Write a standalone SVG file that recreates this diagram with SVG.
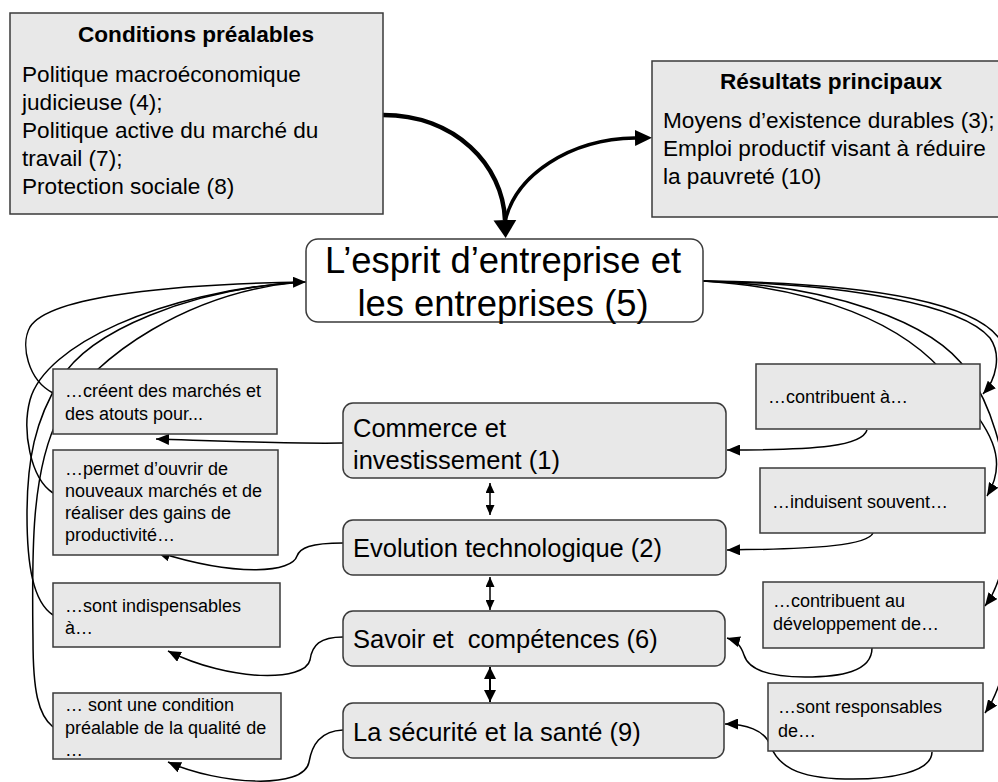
<svg xmlns="http://www.w3.org/2000/svg" width="998" height="782" viewBox="0 0 998 782">
<defs>
<style>
text{font-family:"Liberation Sans",Arial,sans-serif;fill:#000}
.box{fill:#e8e8e8;stroke:#3a3a3a;stroke-width:1.5}
.main{fill:#fff;stroke:#3a3a3a;stroke-width:1.5}
.t22{font-size:22.6px}
.b22{font-size:22.6px;font-weight:bold}
.t18{font-size:18px}
.t25{font-size:25.5px}
.t36{font-size:36.4px}
.c{fill:none;stroke:#000;stroke-width:1.5}
.thick{fill:none;stroke:#000;stroke-width:4.5}
.med{fill:none;stroke:#000;stroke-width:3.5}
</style>
<marker id="ah" markerUnits="userSpaceOnUse" viewBox="0 0 13 11" refX="13" refY="5.5" markerWidth="13" markerHeight="11" orient="auto"><path d="M0,0 L13,5.5 L0,11 z" fill="#000"/></marker>
<marker id="ahs" markerUnits="userSpaceOnUse" viewBox="0 0 10 9" refX="10" refY="4.5" markerWidth="10" markerHeight="9" orient="auto-start-reverse"><path d="M0,0 L10,4.5 L0,9 z" fill="#000"/></marker>
<marker id="ahl" markerUnits="userSpaceOnUse" viewBox="0 0 12 12" refX="12" refY="6" markerWidth="12" markerHeight="12" orient="auto-start-reverse"><path d="M0,0 L12,6 L0,12 z" fill="#000"/></marker>
<marker id="big" markerUnits="userSpaceOnUse" viewBox="0 -12 18 24" refX="0" refY="0" markerWidth="18" markerHeight="24" orient="auto"><path d="M0,-11.5 L18,0 L0,11.5 z" fill="#000"/></marker>
<marker id="mid" markerUnits="userSpaceOnUse" viewBox="0 -8 17 16" refX="0" refY="0" markerWidth="17" markerHeight="16" orient="auto"><path d="M0,-8 L17,0 L0,8 z" fill="#000"/></marker>
</defs>
<rect width="998" height="782" fill="#fff"/>
<g id="connectors">
<path class="thick" d="M383,115 C455,115 503,165 505,220" marker-end="url(#big)"/>
<path class="med" d="M505,222 C515,175 570,139 635,138" marker-end="url(#mid)"/>
<path class="c" d="M53,393 C28,380 20,345 30,327 C50,295 180,284 306,282" marker-end="url(#ah)"/>
<path class="c" d="M53,493 C30,478 22,430 30,400 C45,345 160,292 300,282"/>
<path class="c" d="M53,615 C33,602 27,565 27,515 C27,460 35,420 60,380 C90,330 190,290 300,282"/>
<path class="c" d="M53,727 C38,715 33,690 33,640 C32,560 30,470 60,415 C95,355 190,292 300,282"/>
<path class="c" d="M703,281 C850,284 962,305 990,338 C1002,355 996,380 983,394" marker-end="url(#ah)"/>
<path class="c" d="M703,281 C815,288 905,322 950,380 C985,425 1012,455 987,496" marker-end="url(#ah)"/>
<path class="c" d="M703,281 C830,285 935,322 968,372 C1015,440 1020,560 985,606" marker-end="url(#ah)"/>
<path class="c" d="M703,281 C880,283 985,305 1003,345 C1030,420 1030,650 985,713" marker-end="url(#ah)"/>
<path class="c" d="M343,443 C290,444 220,441 156,439" marker-end="url(#ah)"/>
<path class="c" d="M343,543 C310,543 300,548 297,556 C292,572 240,578 157,552" marker-end="url(#ah)"/>
<path class="c" d="M343,637 C320,637 312,645 310,660 C305,682 230,682 168,651" marker-end="url(#ah)"/>
<path class="c" d="M343,730 C320,731 312,745 309,762 C304,790 220,785 168,762" marker-end="url(#ah)"/>
<path class="c" d="M867,430 C862,446 820,450 727,450" marker-end="url(#ah)"/>
<path class="c" d="M873,533 C868,545 820,549 727,550" marker-end="url(#ah)"/>
<path class="c" d="M872,648 C872,672 840,677 805,677 C765,677 748,668 744,655 C741,646 737,641 727,638" marker-end="url(#ah)"/>
<path class="c" d="M932,752 C932,772 890,780 845,779 C795,778 778,765 770,745 C765,730 745,724 725,724" marker-end="url(#ah)"/>
<path class="c" d="M490,483 L490,515" marker-start="url(#ahs)" marker-end="url(#ahs)"/>
<path class="c" d="M490,577 L490,610" marker-start="url(#ahs)" marker-end="url(#ahs)"/>
<path class="c" style="stroke-width:2" d="M490,667 L490,702" marker-start="url(#ahl)" marker-end="url(#ahl)"/>
</g>
<g id="conditions">
<rect class="box" x="10" y="13" width="373" height="201"/>
<text class="b22" x="196" y="42" text-anchor="middle">Conditions préalables</text>
<text class="t22" x="22" y="82">Politique macroéconomique</text>
<text class="t22" x="22" y="110">judicieuse (4);</text>
<text class="t22" x="22" y="138">Politique active du marché du</text>
<text class="t22" x="22" y="166">travail (7);</text>
<text class="t22" x="22" y="194">Protection sociale (8)</text>
</g>
<g id="resultats">
<rect class="box" x="652" y="61" width="360" height="156"/>
<text class="b22" x="831" y="89" text-anchor="middle">Résultats principaux</text>
<text class="t22" x="663" y="128">Moyens d’existence durables (3);</text>
<text class="t22" x="663" y="156">Emploi productif visant à réduire</text>
<text class="t22" x="663" y="184">la pauvreté (10)</text>
</g>
<g id="esprit">
<rect class="main" x="306" y="239" width="397" height="83" rx="12"/>
<text class="t36" x="503" y="273" text-anchor="middle">L’esprit d’entreprise et</text>
<text class="t36" x="503" y="316" text-anchor="middle">les entreprises (5)</text>
</g>
<g id="commerce">
<rect class="box" x="343" y="403" width="383" height="75" rx="10"/>
<text class="t25" x="353" y="437">Commerce et</text>
<text class="t25" x="353" y="469">investissement (1)</text>
</g>
<g id="evolution">
<rect class="box" x="343" y="520" width="383" height="55" rx="10"/>
<text class="t25" x="353" y="557">Evolution technologique (2)</text>
</g>
<g id="savoir">
<rect class="box" x="343" y="611" width="382" height="55" rx="10"/>
<text class="t25" x="353" y="648" style="white-space:pre">Savoir et  compétences (6)</text>
</g>
<g id="securite">
<rect class="box" x="343" y="703" width="381" height="55" rx="10"/>
<text class="t25" x="353" y="741">La sécurité et la santé (9)</text>
</g>
<g id="l-creent">
<rect class="box" x="53" y="369" width="224" height="65"/>
<text class="t18" x="65" y="397">…créent des marchés et</text>
<text class="t18" x="65" y="420">des atouts pour...</text>
</g>
<g id="l-permet">
<rect class="box" x="53" y="450" width="225" height="105"/>
<text class="t18" x="65" y="475">…permet d’ouvrir de</text>
<text class="t18" x="65" y="497">nouveaux marchés et de</text>
<text class="t18" x="65" y="519">réaliser des gains de</text>
<text class="t18" x="65" y="541">productivité…</text>
</g>
<g id="l-indisp">
<rect class="box" x="53" y="583" width="227" height="64"/>
<text class="t18" x="65" y="612">…sont indispensables</text>
<text class="t18" x="65" y="634">à…</text>
</g>
<g id="l-condition">
<rect class="box" x="53" y="693" width="228" height="66"/>
<text class="t18" x="65" y="711">… sont une condition</text>
<text class="t18" x="65" y="734">préalable de la qualité de</text>
<text class="t18" x="65" y="756">…</text>
</g>
<g id="r-contribuent">
<rect class="box" x="756" y="364" width="224" height="65"/>
<text class="t18" x="768" y="403">…contribuent à…</text>
</g>
<g id="r-induisent">
<rect class="box" x="760" y="468" width="225" height="65"/>
<text class="t18" x="772" y="508">…induisent souvent…</text>
</g>
<g id="r-developpement">
<rect class="box" x="763" y="582" width="221" height="66"/>
<text class="t18" x="773" y="607">…contribuent au</text>
<text class="t18" x="773" y="630">développement de…</text>
</g>
<g id="r-responsables">
<rect class="box" x="768" y="683" width="215" height="68"/>
<text class="t18" x="778" y="713">…sont responsables</text>
<text class="t18" x="778" y="737">de…</text>
</g>
</svg>
